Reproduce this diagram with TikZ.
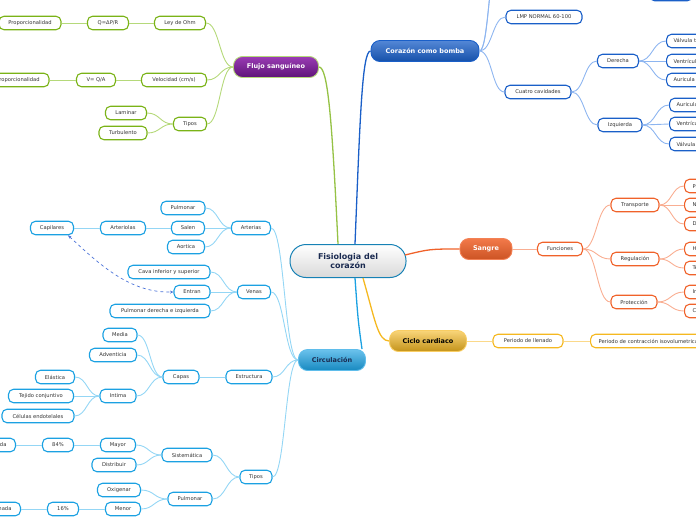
\documentclass[tikz,border=0pt]{standalone}
\usepackage{fontspec}
\setmainfont{DejaVu Sans}
\usetikzlibrary{calc,arrows.meta}
\definecolor{txt}{HTML}{333333}
\definecolor{gB}{HTML}{7AB317}
\definecolor{gL}{HTML}{B5D97A}
\definecolor{bB}{HTML}{1A5FC8}
\definecolor{bL}{HTML}{8DB5F0}
\definecolor{oB}{HTML}{F0622A}
\definecolor{oL}{HTML}{F9AE92}
\definecolor{yB}{HTML}{F5B820}
\definecolor{yL}{HTML}{FBD98A}
\definecolor{cB}{HTML}{1BA1E2}
\definecolor{cL}{HTML}{94D6F5}
\definecolor{navy}{HTML}{1A2A50}
\definecolor{dashc}{HTML}{4A72D8}
\definecolor{purT}{HTML}{9A3CB4}
\definecolor{purB}{HTML}{5E1478}
\tikzset{
  sub/.style={draw=#1, fill=white, line width=1.1pt, rounded corners=5pt,
    minimum height=13.5pt, inner xsep=4pt, inner ysep=1pt,
    font=\fontsize{5.2}{6}\selectfont, text=txt},
  topic/.style n args={4}{draw=#1, top color=#2, bottom color=#3, text=#4,
    line width=0.9pt, rounded corners=9pt, minimum height=21pt, inner sep=1pt,
    font=\fontsize{6.5}{7.5}\selectfont\bfseries},
  mm/.style={to path={let \p1=(\tikztostart), \p2=(\tikztotarget) in
    .. controls ({0.5*\x1+0.5*\x2},\y1) and ({0.5*\x1+0.5*\x2},\y2) .. (\tikztotarget)}},
  conn/.style={draw=#1, line width=0.9pt, mm},
  mainline/.style={draw=#1, line width=1.3pt},
}
\begin{document}
\begin{tikzpicture}[x=1pt,y=-1pt]
\useasboundingbox (0,0) rectangle (696,520);
\clip (0,0) rectangle (696,520);

% ---------- central & topics ----------
\node[draw=cB!80!black, top color=white, bottom color=gray!30, line width=1pt,
  rounded corners=16pt, minimum width=116pt, minimum height=33pt, align=center,
  text=navy, font=\fontsize{8}{9.5}\selectfont\bfseries] (central) at (348,261) {Fisiologia del\\corazón};
\node[topic={gL}{purT}{purB}{white}, minimum width=85pt] (flujo) at (276,67) {Flujo sanguíneo};
\node[topic={bB}{bB!75!white}{bB!85!black}{white}, minimum width=108pt] (corazon) at (425,51) {Corazón como bomba};
\node[topic={oB!80!white}{oB!85!white}{oB!85!black}{white}, minimum width=52pt] (sangre) at (486,249) {Sangre};
\node[topic={yB!70!white}{yB!60!white}{yB!80!black}{black}, minimum width=77pt] (ciclo) at (428,341) {Ciclo cardiaco};
\node[topic={cB!70!white}{cB!65!white}{cB!85!black}{navy}, minimum width=67pt] (circ) at (332,360) {Circulación};

\draw[mainline=gB!80!white] ([xshift=-10pt]central.north) .. controls (332,120) and (328,67) .. (flujo.east);
\draw[mainline=bB] ([xshift=7pt]central.north) .. controls (360,120) and (362,51) .. (corazon.west);
\draw[mainline=oB] (405,255) .. controls (430,249) .. (sangre.west);
\draw[mainline=yB] ([xshift=15pt]central.south) .. controls (375,320) and (378,341) .. (ciclo.west);
\draw[mainline=cB] ([xshift=7pt]central.south) .. controls (358,320) .. ([xshift=30pt]circ.north);

% ---------- Flujo sanguineo ----------
\node[sub=gB, minimum width=51pt] (ohm) at (180,23) {Ley de Ohm};
\node[sub=gB, minimum width=41pt] (qpr) at (108,23) {Q=ΔP/R};
\node[sub=gB, minimum width=62pt] (prop1) at (30,23) {Proporcionalidad};
\node[sub=gB, minimum width=65pt] (vel) at (174,80) {Velocidad (cm/s)};
\node[sub=gB, minimum width=39pt] (vqa) at (96,80) {V= Q/A};
\node[sub=gB, minimum width=62pt] (prop2) at (18,80) {Proporcionalidad};
\node[sub=gB, minimum width=33pt] (tipos1) at (190,124) {Tipos};
\node[sub=gB, minimum width=41pt] (lam) at (126,113) {Laminar};
\node[sub=gB, minimum width=48pt] (turb) at (123,133) {Turbulento};
\foreach \a/\b in {flujo/ohm, flujo/vel, flujo/tipos1, ohm/qpr, qpr/prop1, vel/vqa, vqa/prop2, tipos1/lam, tipos1/turb}
  \draw[conn=gL] (\a.west) to (\b.east);

% ---------- Corazon como bomba ----------
\node[sub=bB, minimum width=43pt] (topn) at (671,-6) {};
\coordinate (up1) at (497,-30);
\coordinate (up2) at (500,-60);
\node[sub=bB, minimum width=76pt] (lmp) at (544,17) {LMP NORMAL 60-100};
\node[sub=bB, minimum width=66pt] (cuatro) at (538,92) {Cuatro cavidades};
\node[sub=bB, minimum width=41pt] (der) at (618,61) {Derecha};
\node[sub=bB, minimum width=44pt] (izq) at (620,125) {Izquierda};
\node[sub=bB, anchor=west, inner xsep=7pt] (d1) at (666,41) {Válvula tricúspide};
\node[sub=bB, anchor=west, inner xsep=7pt] (d2) at (666,61) {Ventrículo derecho};
\node[sub=bB, anchor=west, inner xsep=7pt] (d3) at (666,80) {Auricula derecha};
\node[sub=bB, anchor=west, inner xsep=7pt] (i1) at (669,105) {Auricula izquierda};
\node[sub=bB, anchor=west, inner xsep=7pt] (i2) at (669,124) {Ventrículo izquierdo};
\node[sub=bB, anchor=west, inner xsep=7pt] (i3) at (669,144) {Válvula mitral};
\draw[conn=bL] (corazon.east) to (up1);
\draw[conn=bL] (corazon.east) to (up2);
\foreach \a/\b in {corazon/lmp, corazon/cuatro, cuatro/der, cuatro/izq, der/d1, der/d2, der/d3, izq/i1, izq/i2, izq/i3}
  \draw[conn=bL] (\a.east) to (\b.west);

% ---------- Sangre ----------
\node[sub=oB, minimum width=45pt] (fun) at (560,249) {Funciones};
\node[sub=oB, minimum width=48pt] (trans) at (635,205) {Transporte};
\node[sub=oB, minimum width=48pt] (reg) at (635,259) {Regulación};
\node[sub=oB, minimum width=46pt] (prot) at (634,302) {Protección};
\node[sub=oB, anchor=west, inner xsep=8pt] (t1) at (684,186) {Proteínas};
\node[sub=oB, anchor=west, inner xsep=8pt] (t2) at (684,205) {Nutrientes};
\node[sub=oB, anchor=west, inner xsep=8pt] (t3) at (684,224) {Desechos};
\node[sub=oB, anchor=west, inner xsep=8pt] (r1) at (684,249) {Homeostasis};
\node[sub=oB, anchor=west, inner xsep=8pt] (r2) at (684,268) {Temperatura};
\node[sub=oB, anchor=west, inner xsep=8pt] (p1) at (684,292) {Inmunidad};
\node[sub=oB, anchor=west, inner xsep=8pt] (p2) at (684,311) {Coagulación};
\foreach \a/\b in {sangre/fun, fun/trans, fun/reg, fun/prot, trans/t1, trans/t2, trans/t3, reg/r1, reg/r2, prot/p1, prot/p2}
  \draw[conn=oL] (\a.east) to (\b.west);

% ---------- Ciclo cardiaco ----------
\node[sub=yB, minimum width=70pt] (llen) at (528,341) {Periodo de llenado};
\node[sub=yB, anchor=west, inner xsep=8pt] (contr) at (590,341) {Periodo de contracción isovolumetrica};
\draw[conn=yL] (ciclo.east) to (llen.west);
\draw[conn=yL] (llen.east) to (contr.west);

% ---------- Circulacion ----------
\node[sub=cB, minimum width=39pt] (art) at (251,228) {Arterias};
\node[sub=cB, minimum width=33pt] (ven) at (254,292) {Venas};
\node[sub=cB, minimum width=46pt] (estr) at (249,377) {Estructura};
\node[sub=cB, minimum width=32pt] (tipos2) at (256,477) {Tipos};
\node[sub=cB, minimum width=44pt] (pulm) at (183,208) {Pulmonar};
\node[sub=cB, minimum width=33pt] (salen) at (188,228) {Salen};
\node[sub=cB, minimum width=37pt] (aort) at (186,247) {Aortica};
\node[sub=cB, minimum width=45pt] (arteriolas) at (123,228) {Arteriolas};
\node[sub=cB, minimum width=43pt] (capil) at (52,228) {Capilares};
\node[sub=cB, minimum width=82pt] (cava) at (169,272) {Cava inferior y superior};
\node[sub=cB, minimum width=36pt] (entran) at (192,292) {Entran};
\node[sub=cB, minimum width=100pt] (pulmde) at (160,311) {Pulmonar derecha e izquierda};
\node[sub=cB, minimum width=36pt] (capas) at (181,377) {Capas};
\node[sub=cB, minimum width=34pt] (media) at (120,335) {Media};
\node[sub=cB, minimum width=47pt] (advent) at (113,355) {Adventicia};
\node[sub=cB, minimum width=36pt] (intima) at (118,396) {Intima};
\node[sub=cB, minimum width=39pt] (elast) at (55,377) {Elástica};
\node[sub=cB, minimum width=65pt] (tejido) at (41,396) {Tejido conjuntivo};
\node[sub=cB, minimum width=72pt] (celulas) at (38,416) {Células endotelales};
\node[sub=cB, minimum width=50pt] (sist) at (187,455) {Sistemática};
\node[sub=cB, minimum width=44pt] (pulm2) at (190,499) {Pulmonar};
\node[sub=cB, minimum width=35pt] (mayor) at (118,445) {Mayor};
\node[sub=cB, minimum width=44pt] (distr) at (114,465) {Distribuir};
\node[sub=cB, minimum width=31pt] (p84) at (58,445) {84\%};
\node[sub=cB, anchor=east, inner xsep=9pt] (sang1) at (16,445) {Sangre oxigenada};
\node[sub=cB, minimum width=43pt] (oxig) at (119,490) {Oxigenar};
\node[sub=cB, minimum width=35pt] (menor) at (123,509) {Menor};
\node[sub=cB, minimum width=31pt] (p16) at (63,509) {16\%};
\node[sub=cB, anchor=east, inner xsep=9pt] (sang2) at (21,509) {Sangre desoxigenada};
\foreach \a/\b in {circ/art, circ/ven, circ/estr, circ/tipos2, art/pulm, art/salen, art/aort, salen/arteriolas, arteriolas/capil,
  ven/cava, ven/entran, ven/pulmde, estr/capas, capas/media, capas/advent, capas/intima, intima/elast, intima/tejido, intima/celulas,
  tipos2/sist, tipos2/pulm2, sist/mayor, sist/distr, mayor/p84, p84/sang1, pulm2/oxig, pulm2/menor, menor/p16, p16/sang2}
  \draw[conn=cL] (\a.west) to (\b.east);

\draw[dashc, line width=0.7pt, dashed, {Stealth[length=3.5pt,width=3pt]}-{Stealth[length=3.5pt,width=3pt]}]
  ([xshift=-6pt]capil.south east) .. controls (100,265) and (130,293) .. (entran.west);
\end{tikzpicture}
\end{document}
